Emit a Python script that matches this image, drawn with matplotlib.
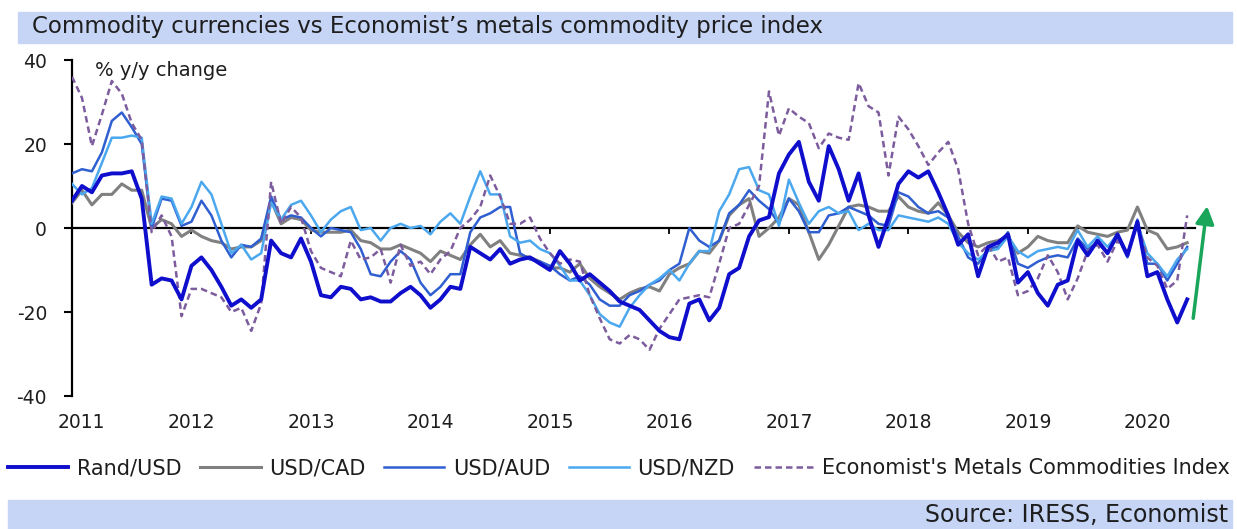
import matplotlib
matplotlib.use('Agg')
import matplotlib.pyplot as plt
import matplotlib.transforms as mtransforms
from matplotlib.patches import Rectangle
from matplotlib.lines import Line2D

plt.rcParams['axes.unicode_minus'] = False

# monthly y/y % changes, Jan 2011 .. May 2020
rand_usd = [6.5, 10, 8.5, 12.5, 13, 13, 13.5, 7, -13.5, -12, -12.5, -17,
            -9, -7, -10, -14, -18.5, -17, -19, -17, -3, -6, -7, -2.5,
            -8, -16, -16.5, -14, -14.5, -17, -16.5, -17.5, -17.5, -15.5, -14, -16,
            -19, -17, -14, -14.5, -4.5, -6, -7.5, -5, -8.5, -7.5, -7, -8.5,
            -10, -5.5, -8.5, -12.5, -11, -13, -15, -17.5, -18.5, -19.5, -22, -24.5,
            -26, -26.5, -18, -17, -22, -19, -11, -9.5, -2, 1.8, 2.6, 13,
            17.5, 20.5, 11, 6.5, 19.5, 14, 6.5, 13, 3, -4.5, 2.5, 10.5,
            13.5, 12, 13.5, 8.5, 3, -4, -1.5, -11.5, -4.5, -3.5, -1.5, -13,
            -10.5, -15.5, -18.5, -13.5, -12.5, -3, -6.5, -3, -6, -1.5, -6.5, 1.5,
            -11.5, -10.5, -17, -22.5, -17]
usd_cad = [6, 9, 5.5, 8, 8, 10.5, 9, 9, 0, 2, 1, -2,
           -0.5, -2, -3, -3.5, -5, -4.5, -4.5, -3, 6.5, 1, 2.5, 2,
           -0.5, -1, -1, -1, -0.5, -3, -3.5, -5, -5, -4, -5, -6,
           -8, -5.5, -6.5, -7.5, -4, -1.5, -4.5, -3, -6, -6.5, -7, -8,
           -9.5, -9.5, -10.5, -8.5, -12, -14, -15.5, -17, -15.5, -14.5, -14, -15,
           -11, -9.5, -8.5, -5.5, -6, -3, 3, 5.5, 7, -2, 0, 2.5,
           7, 5.5, -1, -7.5, -4, 0.5, 5, 5.5, 5, 4, 4, 7.5,
           5, 4, 3.5, 6, 3, -1, -3.5, -4.5, -3.5, -3, -2, -6,
           -4.5, -2, -3, -3.5, -3.5, 0.5, -1, -1.5, -2, -1, -0.5, 5,
           -0.5, -1.5, -5, -4.5, -3.5]
usd_aud = [13, 14, 13.5, 18, 25.5, 27.5, 24, 20, 0, 7, 6.5, 0.5,
           1.5, 6.5, 3, -3, -7, -4, -4.5, -2.5, 7.5, 2, 3, 2.5,
           0, -2, 0, -0.5, -1, -5, -11, -11.5, -8, -5.5, -7.5, -13,
           -16, -14, -11, -11, -1, 2.5, 3.5, 5, 5, -6, -7.5, -8,
           -9, -11, -12.5, -11.5, -13.5, -17, -18.5, -18.5, -16, -15, -13.5, -12.5,
           -10, -8.5, 0, -3, -4.5, -3, 3.5, 5.5, 9, 6.5, 4.5, 1,
           7, 4, -1, -1, 3, 3.5, 5, 4, 3, 1, 0.5, 8.5,
           7.5, 5, 3.5, 4, 2.5, -2, -7, -8.5, -5, -4.5, -1, -8.5,
           -9.5, -8, -7, -6.5, -7, -2.5, -5, -3.5, -6, -2, -7, 2,
           -8.5, -8.5, -12.5, -8.5, -4.5]
usd_nzd = [10.5, 8, 9.5, 15.5, 21.5, 21.5, 22, 21.5, 1, 7.5, 7, 1,
           5, 11, 8, 1, -6, -4, -7.5, -6, 6, 2, 5.5, 6.5,
           3, -1, 2, 4, 5, -0.5, 0, -3, 0, 1, 0, 0.5,
           -1.5, 1.5, 3.5, 1, 7.5, 13.5, 8, 8, -2, -3.5, -3, -5,
           -6, -9, -12.5, -12.5, -16, -20.5, -22.5, -23.5, -19, -16, -13.5, -12,
           -10, -12.5, -8.5, -5.5, -5.5, 4, 8, 14, 14.5, 9, 8, 0.5,
           11.5, 6, 1, 4, 5, 3.5, 4, -0.5, 1, -0.5, -0.5, 3,
           2.5, 2, 1.5, 2.5, 1, -3.5, -6, -7.5, -5.5, -5, -2, -5.5,
           -7, -5.5, -5, -4.5, -5, -0.5, -4.5, -2, -4.5, -1.5, -6.5, 1,
           -6, -8.5, -11.5, -7.5, -5]
metals = [36, 31, 19.5, 27, 35, 32, 25, 21, -1, 3, -2, -21,
          -14.5, -14.5, -15.5, -16.5, -20, -19, -24.5, -18, 11, 1, 5, 2.5,
          -5.5, -9.5, -10.5, -11.5, -3, -7.5, -7, -5, -13, -4, -9, -8,
          -11, -7.5, -5.5, 0, 2, 5, 12.5, 7.5, 1, 1, 2.5, -2.5,
          -6, -8.5, -7.5, -8, -16, -21.5, -26.5, -27.5, -25.5, -26.5, -29, -24,
          -20.5, -17, -16.5, -16, -16.5, -8.5, 0, 1, 5.5, 10, 32.5, 22,
          28.5, 26.5, 25, 19, 22.5, 21.5, 21, 34.5, 29, 27.5, 12.5, 26.5,
          23.5, 19.5, 15, 18, 20.5, 14, 1, -6.5, -4, -8, -7, -16,
          -15, -12, -6.5, -10.5, -17, -12, -5.5, -4, -8, -3, -6, 1,
          -7, -9, -14.5, -12.5, 3]

years = ['2011', '2012', '2013', '2014', '2015', '2016', '2017', '2018', '2019', '2020']
months = list(range(len(rand_usd)))
year_pos = [12 * i for i in range(len(years))]

W, H = 1237, 529
fig = plt.figure(figsize=(W / 100, H / 100), dpi=100)
ax = fig.add_axes([72 / W, 133 / H, 1160 / W, 336 / H])

txt = '#1e1e1e'

# series (drawn so the rand line sits on top)
ax.plot(months, usd_cad, color='#808080', lw=2.2, zorder=3)
ax.plot(months, usd_aud, color='#2f5fd0', lw=1.8, zorder=4)
ax.plot(months, usd_nzd, color='#4ba8ee', lw=1.8, zorder=4)
ax.plot(months, metals, color='#7d5c9e', lw=1.8, ls=(0, (2.6, 1.6)), zorder=5)
ax.plot(months, rand_usd, color='#0e0ecc', lw=2.8, zorder=6)

ax.set_xlim(0, 116.5)
ax.set_ylim(-40, 40)
ax.set_yticks([-40, -20, 0, 20, 40])
ax.tick_params(axis='y', direction='out', length=6, width=1.5, pad=12,
               labelsize=13.5, labelcolor=txt)

# x axis line sits at zero, labels at the bottom
ax.spines['bottom'].set_position(('data', 0))
ax.spines['bottom'].set_bounds(0, 112.75)
ax.spines['bottom'].set_linewidth(1.6)
ax.set_xticks(year_pos)
ax.tick_params(axis='x', direction='out', length=4, width=1.3, labelbottom=False)
ax.spines['left'].set_linewidth(1.6)
ax.spines['top'].set_visible(False)
ax.spines['right'].set_visible(False)
ax.patch.set_alpha(0)

sec = ax.secondary_xaxis(0)
sec.set_xticks(year_pos, years)
sec.tick_params(length=0, pad=12, labelsize=13.5, labelcolor=txt)
sec.spines['bottom'].set_visible(False)
# first year label sits a little to the right of the axis
first = sec.get_xticklabels()[0]
first.set_transform(first.get_transform() +
                    mtransforms.ScaledTranslation(9 / 100, 0, fig.dpi_scale_trans))

ax.text(2.3, 37.4, '% y/y change', fontsize=14, color=txt, ha='left', va='center')

# green arrow on the right
ax.annotate('', xy=(114.0, 5.2), xytext=(112.6, -21.5), annotation_clip=False,
            arrowprops=dict(arrowstyle='-|>,head_length=0.75,head_width=0.4',
                            mutation_scale=14, color='#1aa65a', lw=2.5,
                            shrinkA=0, shrinkB=0))

# title and source bands
band = '#c6d5f6'
fig.add_artist(Rectangle((18 / W, (H - 43) / H), 1214 / W, 31 / H,
                         transform=fig.transFigure, color=band, zorder=0))
fig.text(32 / W, (H - 27) / H,
         'Commodity currencies vs Economist\u2019s metals commodity price index',
         fontsize=16.5, color=txt, ha='left', va='center')
fig.add_artist(Rectangle((8 / W, 0), 1224 / W, 29 / H,
                         transform=fig.transFigure, color=band, zorder=0))
fig.text(1228 / W, 14 / H, 'Source: IRESS, Economist', fontsize=17,
         color=txt, ha='right', va='center')

handles = [Line2D([], [], color='#0e0ecc', lw=2.8),
           Line2D([], [], color='#808080', lw=2.2),
           Line2D([], [], color='#2f5fd0', lw=1.8),
           Line2D([], [], color='#4ba8ee', lw=1.8),
           Line2D([], [], color='#7d5c9e', lw=1.8, ls=(0, (2.6, 1.6)))]
labels = ['Rand/USD', 'USD/CAD', 'USD/AUD', 'USD/NZD',
          "Economist's Metals Commodities Index"]
leg = fig.legend(handles, labels, loc='center left', bbox_to_anchor=(8 / W, (H - 468) / H),
                 ncol=5, frameon=False, fontsize=15, handlelength=2.9,
                 handletextpad=0.4, columnspacing=0.9, borderpad=0, borderaxespad=0)
for t in leg.get_texts():
    t.set_color(txt)

fig.savefig('out.png', dpi=100)
